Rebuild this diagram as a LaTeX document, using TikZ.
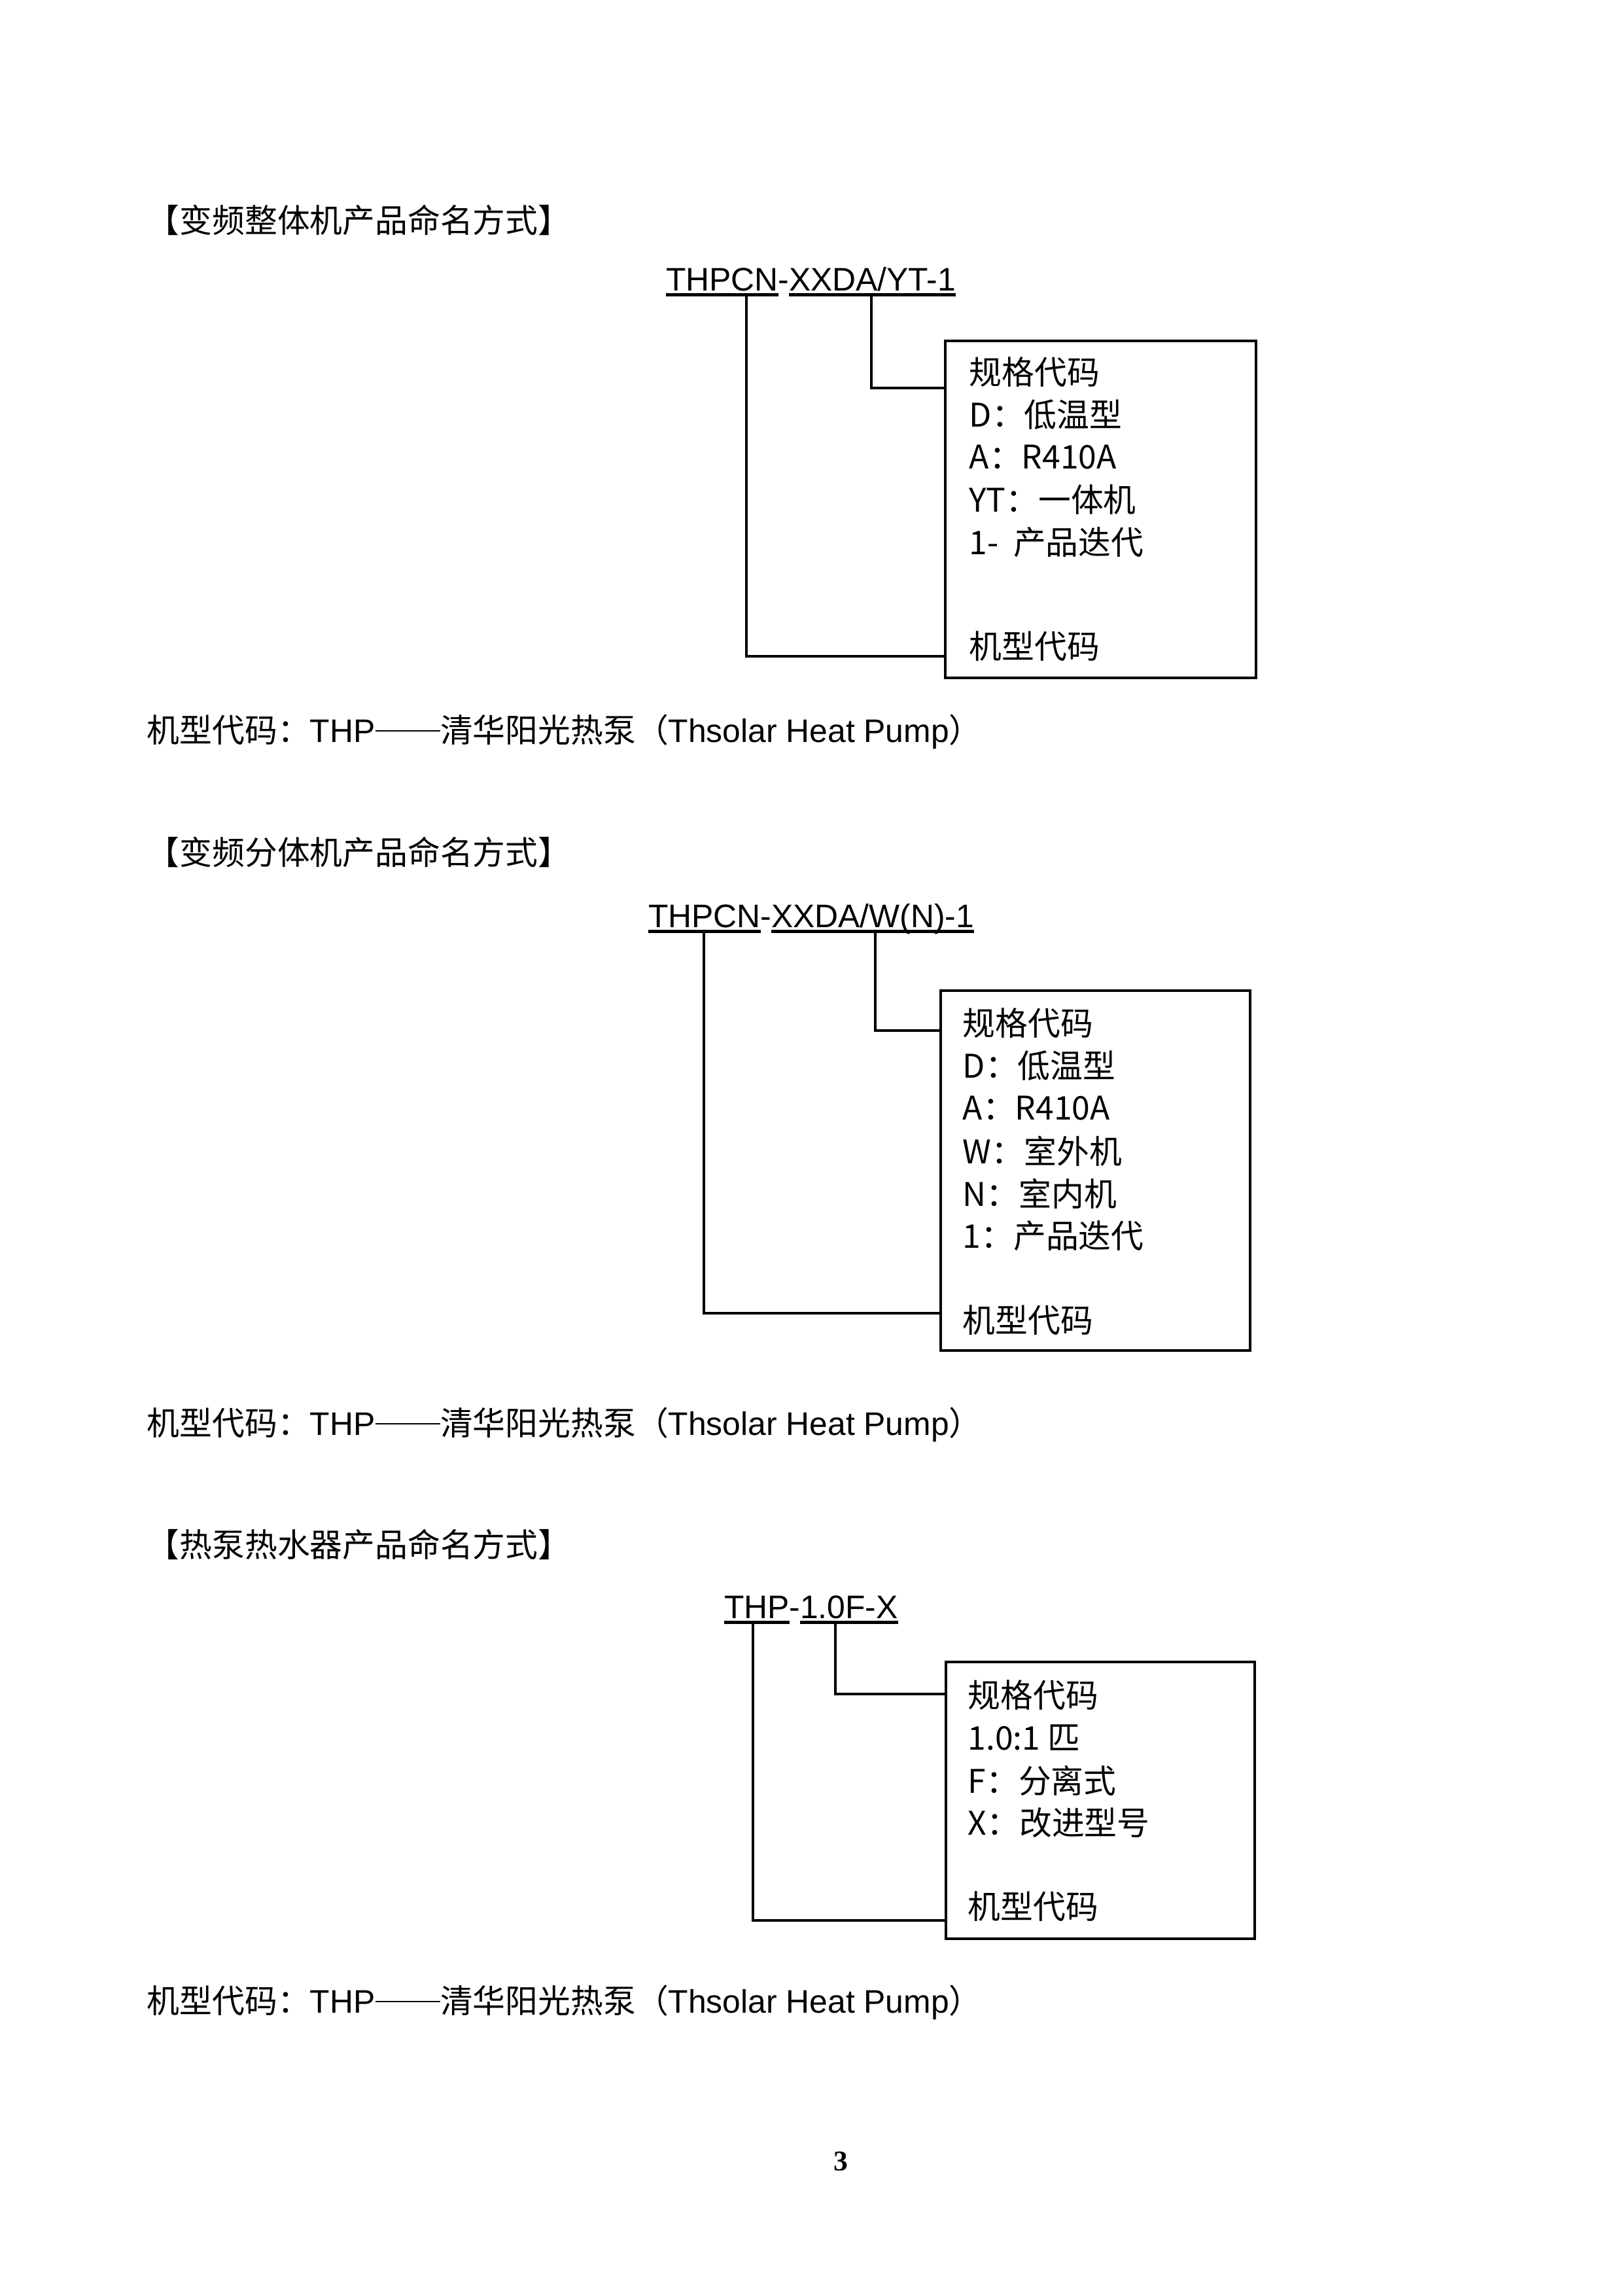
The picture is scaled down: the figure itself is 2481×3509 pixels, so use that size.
\documentclass[tikz,border=0pt]{standalone}
\usepackage{fontspec}
\setmainfont{Liberation Sans}
\newfontfamily\cjk{Noto Sans CJK SC}
\newfontfamily\numfont{Liberation Serif}
\newcommand{\longdash}{\rule[3.9pt]{24pt}{0.55pt}}
\tikzset{
  codetext/.style={inner sep=0pt, outer sep=0pt, anchor=base west, text depth=0pt, font=\fontsize{12}{14}\selectfont},
  uline/.style={line width=1.1pt},
  conn/.style={line width=1pt},
  specbox/.style={line width=1.1pt},
  spec/.style={inner sep=0pt, anchor=west, font=\cjk\fontsize{12}{14}\selectfont},
  para/.style={inner sep=0pt, anchor=west, font=\fontsize{12}{14}\selectfont},
}
\begin{document}
\begin{tikzpicture}[x=0.084667mm, y=-0.084667mm]
  \fill[white] (0,0) rectangle (2481,3509);
  \useasboundingbox (0,0) rectangle (2481,3509);

  % 变频整体机
  \node[para] (h1) at (224,336) {\cjk 【变频整体机产品命名方式】};
  \node[codetext] (c1a) at (1018,444) {THPCN};
  \node[codetext] (c1d) at (c1a.base east) {-};
  \node[codetext] (c1b) at (c1d.base east) {XXDA/YT-1};
  \draw[uline] ([yshift=-1.5pt]c1a.south west) -- ([yshift=-1.5pt]c1a.south east);
  \draw[uline] ([yshift=-1.5pt]c1b.south west) -- ([yshift=-1.5pt]c1b.south east);
  \coordinate (b1nw) at (1445,521); % box corners
  \coordinate (b1se) at (1920,1036);
  \draw[specbox] (b1nw) rectangle (b1se);
  \foreach \t [count=\i from 0] in {规格代码, D：低温型, A：R410A, YT：一体机, 1- \ 产品迭代}
    \node[spec] (s1\i) at (1481,569+65*\i) {\t};
  \node[spec] (m1) at (1481,988) {机型代码};
  \coordinate (t1a) at (1141,450); \coordinate (j1a) at (1141,1003);
  \coordinate (t1b) at (1332,450); \coordinate (j1b) at (1332,593);
  \draw[conn] (t1a) -- (j1a) -- (j1a -| b1nw);
  \draw[conn] (t1b) -- (j1b) -- (j1b -| b1nw);
  \node[para] (p1) at (224,1118) {{\cjk 机型代码：}THP\longdash{\cjk 清华阳光热泵（}Thsolar Heat Pump{\cjk ）}};

  % 变频分体机
  \node[para] (h2) at (224,1302) {\cjk 【变频分体机产品命名方式】};
  \node[codetext] (c2a) at (991,1417) {THPCN};
  \node[codetext] (c2d) at (c2a.base east) {-};
  \node[codetext] (c2b) at (c2d.base east) {XXDA/W(N)-1};
  \draw[uline] ([yshift=-1.5pt]c2a.south west) -- ([yshift=-1.5pt]c2a.south east);
  \draw[uline] ([yshift=-1.5pt]c2b.south west) -- ([yshift=-1.5pt]c2b.south east);
  \coordinate (b2nw) at (1438,1514);
  \coordinate (b2se) at (1911,2064);
  \draw[specbox] (b2nw) rectangle (b2se);
  \foreach \t [count=\i from 0] in {规格代码, D：低温型, A：R410A, W：室外机, N：室内机, 1：产品迭代}
    \node[spec] (s2\i) at (1471,1564+65*\i) {\t};
  \node[spec] (m2) at (1471,2018) {机型代码};
  \coordinate (t2a) at (1076,1423); \coordinate (j2a) at (1076,2007);
  \coordinate (t2b) at (1338,1423); \coordinate (j2b) at (1338,1575);
  \draw[conn] (t2a) -- (j2a) -- (j2a -| b2nw);
  \draw[conn] (t2b) -- (j2b) -- (j2b -| b2nw);
  \node[para] (p2) at (224,2177) {{\cjk 机型代码：}THP\longdash{\cjk 清华阳光热泵（}Thsolar Heat Pump{\cjk ）}};

  % 热泵热水器
  \node[para] (h3) at (224,2360) {\cjk 【热泵热水器产品命名方式】};
  \node[codetext] (c3a) at (1107,2473) {THP};
  \node[codetext] (c3d) at (c3a.base east) {-};
  \node[codetext] (c3b) at (c3d.base east) {1.0F-X};
  \draw[uline] ([yshift=-1.5pt]c3a.south west) -- ([yshift=-1.5pt]c3a.south east);
  \draw[uline] ([yshift=-1.5pt]c3b.south west) -- ([yshift=-1.5pt]c3b.south east);
  \coordinate (b3nw) at (1446,2540);
  \coordinate (b3se) at (1918,2963);
  \draw[specbox] (b3nw) rectangle (b3se);
  \foreach \t [count=\i from 0] in {规格代码, 1.0:1 匹, F：分离式, X：改进型号}
    \node[spec] (s3\i) at (1479,2591+65*\i) {\t};
  \node[spec] (m3) at (1479,2914) {机型代码};
  \coordinate (t3a) at (1151,2479); \coordinate (j3a) at (1151,2935);
  \coordinate (t3b) at (1277,2479); \coordinate (j3b) at (1277,2589);
  \draw[conn] (t3a) -- (j3a) -- (j3a -| b3nw);
  \draw[conn] (t3b) -- (j3b) -- (j3b -| b3nw);
  \node[para] (p3) at (224,3060) {{\cjk 机型代码：}THP\longdash{\cjk 清华阳光热泵（}Thsolar Heat Pump{\cjk ）}};

  % page number
  \node[font=\numfont\bfseries\fontsize{10.5}{12}\selectfont] (pg) at (1285,3303) {3};
\end{tikzpicture}
\end{document}
